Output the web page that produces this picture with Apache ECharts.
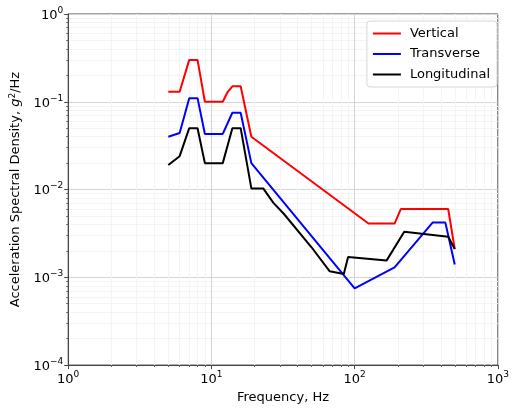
<!DOCTYPE html>
<html>
<head>
<meta charset="utf-8">
<style>
  html, body { margin: 0; padding: 0; background: #fff; }
  #chart { width: 512px; height: 409px; }
</style>
<script src="https://cdn.jsdelivr.net/npm/echarts@6/dist/echarts.min.js"></script>
</head>
<body>
<div id="chart"></div>
<script>
/* PSD envelope, three axes, log-log */
const vertFreq  = [5, 6, 7, 8, 9, 12, 13, 14, 16, 19, 125, 190, 210, 450, 500];
const vertPsd   = [0.13, 0.13, 0.3, 0.3, 0.1, 0.1, 0.13, 0.15, 0.15, 0.04, 0.0041, 0.0041, 0.006, 0.006, 0.0021];
const transFreq = [5, 6, 7, 8, 9, 12, 14, 16, 19, 100, 190, 350, 430, 500];
const transPsd  = [0.04, 0.044, 0.11, 0.11, 0.043, 0.043, 0.075, 0.075, 0.02, 0.00075, 0.0013, 0.0042, 0.0042, 0.0014];
const longFreq  = [5, 6, 7, 8, 9, 12, 14, 16, 19, 23, 27, 32, 50, 67, 84, 90, 167, 222, 450, 500];
const longPsd   = [0.019, 0.024, 0.05, 0.05, 0.02, 0.02, 0.05, 0.05, 0.0103, 0.0103, 0.0071, 0.0053, 0.0022, 0.00117, 0.00109, 0.0017, 0.00155, 0.0033, 0.0029, 0.0021];
const seriesNames = ["Vertical", "Transverse", "Longitudinal"];
const seriesColors = ["#ff0000", "#0000ff", "#000000"];

const FONT = "DejaVu Sans";
const pairs = (f, v) => f.map((x, i) => [x, v[i]]);

const powLabel = (val) => {
  const e = Math.round(Math.log10(val));
  return "{b|10}{s|" + String(e).replace("-", "\u2212") + "}";
};
const SUP = { fontFamily: FONT, fontSize: 9, color: "#000", verticalAlign: "top", padding: [0, 0, 7, 0] };
const RICH = {
  b: { fontFamily: FONT, fontSize: 13, color: "#000", verticalAlign: "bottom" },
  s: SUP,
};

const AXIS = {
  type: "log", logBase: 10,
  axisLine: { show: true, lineStyle: { color: "#444", width: 1 } },
  axisTick: { show: true, length: 4, lineStyle: { color: "#444" } },
  minorTick: { show: true, splitNumber: 9, length: 2, lineStyle: { color: "#666" } },
  splitLine: { show: true, lineStyle: { color: "#d4d4d4", width: 1 } },
  minorSplitLine: { show: true, lineStyle: { color: "#f4f4f4", width: 1 } },
  axisLabel: { formatter: powLabel, rich: RICH, margin: 5 },
  nameLocation: "middle",
};

const chart = echarts.init(document.getElementById("chart"), null, { renderer: "canvas" });
chart.setOption({
  animation: false,
  grid: { left: 63, right: 10, top: 14, bottom: 39, show: true, borderColor: "#444", borderWidth: 1 },
  legend: {
    orient: "vertical", right: 15, top: 21,
    padding: [5, 7, 5, 6], itemGap: 5.5,
    itemWidth: 28, itemHeight: 2, icon: "rect",
    backgroundColor: "#fff", borderColor: "#d6d6d6", borderWidth: 1, borderRadius: 3,
    textStyle: { fontFamily: FONT, fontSize: 13, color: "#000", lineHeight: 15, padding: [0, 0, 0, 4] },
    data: seriesNames,
  },
  xAxis: { ...AXIS, min: 1, max: 1000,
    name: "Frequency, Hz", nameGap: 22,
    nameTextStyle: { fontFamily: FONT, fontSize: 13, color: "#000" } },
  yAxis: { ...AXIS, min: 0.0001, max: 1,
    name: "Acceleration Spectral Density, {i|g}{s|2}/Hz", nameGap: 42, nameRotate: 90,
    nameTextStyle: { fontFamily: FONT, fontSize: 13, color: "#000",
      rich: {
        i: { fontFamily: FONT, fontSize: 13, fontStyle: "italic", color: "#000" },
        s: SUP,
      } } },
  series: [
    [vertFreq, vertPsd], [transFreq, transPsd], [longFreq, longPsd],
  ].map(([f, v], i) => ({
    name: seriesNames[i], type: "line", showSymbol: false,
    data: pairs(f, v),
    itemStyle: { color: seriesColors[i] },
    lineStyle: { color: seriesColors[i], width: 2 },
  })),
});
</script>
</body>
</html>
